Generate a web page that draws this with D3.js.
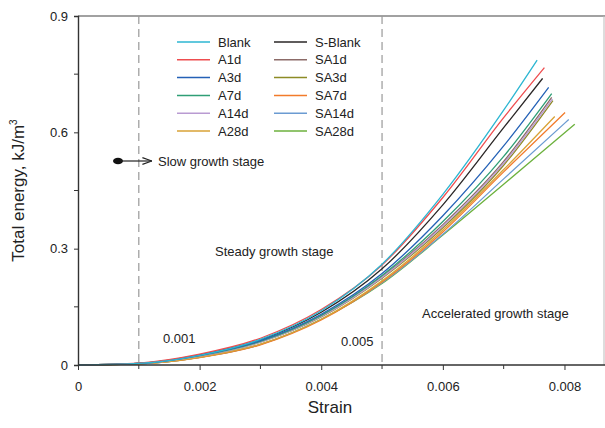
<!DOCTYPE html>
<html lang="en">
<head>
<meta charset="UTF-8">
<title>Total energy vs strain</title>
<script src="https://d3js.org/d3.v7.min.js"></script>
<style>
  body { margin: 0; background: #fff; }
  text { font-family: "Liberation Sans", Arial, sans-serif; fill: #222; }
</style>
</head>
<body>
<script>
const width = 605;
const height = 428;

// data
const strainPts = [0, 0.001, 0.002, 0.003, 0.004, 0.005, 0.006, 0.007];
const seriesNames = ["Blank", "A1d", "A3d", "A7d", "A14d", "A28d",
                     "S-Blank", "SA1d", "SA3d", "SA7d", "SA14d", "SA28d"];
const seriesColors = ["#2cb6d2", "#ee4d4f", "#2461b6", "#2f9e76", "#b99bd2", "#d9a236",
                      "#2a2626", "#8c6b68", "#8d8b25", "#f27b2b", "#6b9bd2", "#6cb13d"];
const endStrain = [0.00755, 0.00767, 0.00774, 0.00779, 0.00780, 0.00784,
                   0.00764, 0.00779, 0.00781, 0.00801, 0.00807, 0.00817];
const energy = [
  [0, 0.004, 0.025, 0.066, 0.140, 0.260, 0.440, 0.657, 0.786],
  [0, 0.005, 0.028, 0.069, 0.143, 0.258, 0.432, 0.638, 0.767],
  [0, 0.004, 0.025, 0.063, 0.131, 0.236, 0.385, 0.565, 0.716],
  [0, 0.004, 0.024, 0.061, 0.128, 0.231, 0.370, 0.538, 0.700],
  [0, 0.004, 0.023, 0.059, 0.125, 0.226, 0.358, 0.520, 0.686],
  [0, 0.003, 0.020, 0.054, 0.118, 0.217, 0.348, 0.504, 0.641],
  [0, 0.004, 0.026, 0.065, 0.136, 0.248, 0.413, 0.612, 0.739],
  [0, 0.004, 0.023, 0.060, 0.126, 0.228, 0.362, 0.525, 0.690],
  [0, 0.004, 0.023, 0.059, 0.124, 0.224, 0.354, 0.515, 0.682],
  [0, 0.003, 0.019, 0.052, 0.116, 0.214, 0.343, 0.498, 0.651],
  [0, 0.003, 0.020, 0.053, 0.118, 0.212, 0.337, 0.480, 0.633],
  [0, 0.003, 0.020, 0.053, 0.118, 0.210, 0.335, 0.466, 0.621]
];
const xTicks = [0, 0.002, 0.004, 0.006, 0.008];
const xMinor = [0.001, 0.003, 0.005, 0.007];
const yTicks = [0, 0.3, 0.6, 0.9];
const yMinor = [0.15, 0.45, 0.75];
const stageLines = [0.001, 0.005];

const margin = {left: 78, top: 16, right: 1, bottom: 63};

const svg = d3.select("body").append("svg")
  .attr("width", width)
  .attr("height", height);

const x = d3.scaleLinear()
  .domain([0, 0.00865])
  .range([margin.left, width - margin.right]);
const y = d3.scaleLinear()
  .domain([0, 0.9])
  .range([height - margin.bottom, margin.top]);

const fmt = d => d === 0 ? "0" : String(d);

// frame top / right
svg.append("line")
  .attr("x1", margin.left).attr("x2", width)
  .attr("y1", y(0.9)).attr("y2", y(0.9))
  .attr("stroke", "#444").attr("stroke-width", 1.2);
svg.append("line")
  .attr("x1", width - 1).attr("x2", width - 1)
  .attr("y1", y(0.9)).attr("y2", y(0))
  .attr("stroke", "#bbb").attr("stroke-width", 1);

// stage dividers
svg.selectAll(".stage")
  .data(stageLines)
  .join("line")
  .attr("x1", d => x(d)).attr("x2", d => x(d))
  .attr("y1", y(0.9)).attr("y2", y(0))
  .attr("stroke", "#999").attr("stroke-width", 1.2)
  .attr("stroke-dasharray", "8,5");

// curves
const line = d3.line()
  .x(d => x(d[0]))
  .y(d => y(d[1]))
  .curve(d3.curveMonotoneX);

const series = seriesNames.map((name, i) => ({
  name: name,
  color: seriesColors[i],
  pts: strainPts.map((s, j) => [s, energy[i][j]]).concat([[endStrain[i], energy[i][8]]])
}));

// draw lower curves first so the upper ones sit on top
svg.append("g")
  .selectAll("path")
  .data(series.slice().reverse())
  .join("path")
  .attr("d", d => line(d.pts))
  .attr("fill", "none")
  .attr("stroke", d => d.color)
  .attr("stroke-width", 1.3);

// axes
const xAxis = svg.append("g")
  .attr("transform", `translate(0,${y(0)})`)
  .call(d3.axisBottom(x).tickValues(xTicks).tickFormat(fmt).tickSize(5).tickPadding(12));
xAxis.append("g").selectAll("line")
  .data(xMinor).join("line")
  .attr("x1", d => x(d)).attr("x2", d => x(d))
  .attr("y1", 0).attr("y2", 4)
  .attr("stroke", "#333");

const yAxis = svg.append("g")
  .attr("transform", `translate(${margin.left},0)`)
  .call(d3.axisLeft(y).tickValues(yTicks).tickFormat(fmt).tickSize(4).tickPadding(6));
yAxis.append("g").selectAll("line")
  .data(yMinor).join("line")
  .attr("x1", 0).attr("x2", -4)
  .attr("y1", d => y(d)).attr("y2", d => y(d))
  .attr("stroke", "#333");

svg.selectAll(".domain").attr("stroke", "#333").attr("stroke-width", 1.4);
svg.selectAll(".tick line").attr("stroke", "#333");
svg.selectAll(".tick text")
  .style("font-family", "'Liberation Sans', Arial, sans-serif")
  .style("font-size", "13px").attr("fill", "#222");
xAxis.select(".domain").attr("d", `M${margin.left},0H${width}`);

// axis titles
svg.append("text")
  .attr("x", 330).attr("y", 413)
  .attr("text-anchor", "middle")
  .style("font-size", "17px")
  .text("Strain");

const yTitle = svg.append("text")
  .attr("transform", `translate(24,${(y(0) + y(0.9)) / 2}) rotate(-90)`)
  .attr("text-anchor", "middle")
  .style("font-size", "17px");
yTitle.append("tspan").text("Total energy, kJ/m");
yTitle.append("tspan").attr("dy", -7).style("font-size", "10px").text("3");

// legend
const legend = svg.append("g");
const legItems = legend.selectAll("g")
  .data(series)
  .join("g")
  .attr("transform", (d, i) => `translate(${i < 6 ? 177 : 274},${42 + (i % 6) * 17.8})`);
legItems.append("line")
  .attr("x1", 0).attr("x2", 33)
  .attr("stroke", d => d.color).attr("stroke-width", 1.5);
legItems.append("text")
  .attr("x", 41).attr("dy", "0.35em")
  .style("font-size", "13px")
  .text(d => d.name);

// annotations
svg.append("defs").append("marker")
  .attr("id", "arrow")
  .attr("viewBox", "0 0 10 10")
  .attr("refX", 10).attr("refY", 5)
  .attr("markerWidth", 8).attr("markerHeight", 8)
  .attr("orient", "auto")
  .append("path")
  .attr("d", "M0,1.5L10,5L0,8.5")
  .attr("fill", "none").attr("stroke", "#222").attr("stroke-width", 1.2);

svg.append("ellipse")
  .attr("cx", 118).attr("cy", 161).attr("rx", 5).attr("ry", 3.3)
  .attr("fill", "#111");
svg.append("line")
  .attr("x1", 120).attr("x2", 152)
  .attr("y1", 161).attr("y2", 161)
  .attr("stroke", "#222").attr("stroke-width", 1.2)
  .attr("marker-end", "url(#arrow)");

const notes = [
  {t: "Slow growth stage", x: 158, y: 166},
  {t: "Steady growth stage", x: 215, y: 256},
  {t: "Accelerated growth stage", x: 422, y: 318},
  {t: "0.001", x: 163, y: 343},
  {t: "0.005", x: 341, y: 346}
];
svg.selectAll(".note")
  .data(notes)
  .join("text")
  .attr("x", d => d.x).attr("y", d => d.y)
  .style("font-size", "13px")
  .text(d => d.t);
</script>
</body>
</html>
